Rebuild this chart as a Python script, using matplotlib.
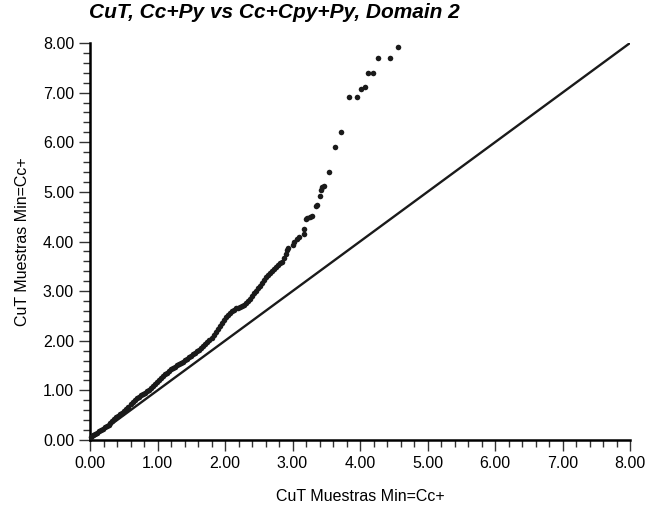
import matplotlib.pyplot as plt
from matplotlib.ticker import MultipleLocator, FormatStrFormatter

plt.rcParams['font.family'] = ['Liberation Sans', 'DejaVu Sans']

# cuantiles: Cc+Cpy+Py (x) vs Cc+Py (y)
qx = [0.02, 0.05, 0.08, 0.10, 0.13, 0.16, 0.19, 0.22, 0.25, 0.28,
      0.30, 0.33, 0.36, 0.39, 0.42, 0.45, 0.48, 0.51, 0.54, 0.57,
      0.60, 0.63, 0.66, 0.69, 0.72, 0.75, 0.78, 0.81, 0.84, 0.87,
      0.90, 0.93, 0.96, 0.99, 1.02, 1.05, 1.08, 1.11, 1.14, 1.17,
      1.20, 1.23, 1.26, 1.29, 1.32, 1.35, 1.38, 1.41, 1.44, 1.47,
      1.50, 1.53, 1.56, 1.59, 1.62, 1.65, 1.68, 1.71, 1.74, 1.77,
      1.80, 1.83, 1.86, 1.89, 1.92, 1.95, 1.98, 2.01, 2.04, 2.07,
      2.10, 2.13, 2.16, 2.19, 2.22, 2.25, 2.28, 2.31, 2.34, 2.37,
      2.40, 2.43, 2.46, 2.49, 2.52, 2.55, 2.58, 2.61, 2.64, 2.67,
      2.70, 2.73, 2.76, 2.79, 2.82, 2.85, 2.88, 2.90, 2.92, 2.94,
      3.01, 3.02, 3.07, 3.10, 3.17, 3.17, 3.20, 3.22, 3.26, 3.29,
      3.35, 3.36, 3.41, 3.42, 3.44, 3.47, 3.54, 3.63, 3.72, 3.84,
      3.96, 4.02, 4.07, 4.12, 4.19, 4.27, 4.44, 4.56]
qy = [0.06, 0.10, 0.13, 0.15, 0.18, 0.21, 0.23, 0.26, 0.28, 0.31,
      0.34, 0.38, 0.42, 0.46, 0.49, 0.52, 0.55, 0.59, 0.63, 0.67,
      0.72, 0.76, 0.80, 0.84, 0.87, 0.90, 0.93, 0.95, 0.98, 1.01,
      1.05, 1.09, 1.13, 1.17, 1.21, 1.25, 1.29, 1.33, 1.36, 1.39,
      1.43, 1.46, 1.48, 1.51, 1.53, 1.56, 1.58, 1.61, 1.64, 1.67,
      1.70, 1.73, 1.76, 1.79, 1.82, 1.86, 1.89, 1.93, 1.97, 2.01,
      2.06, 2.11, 2.17, 2.24, 2.30, 2.36, 2.42, 2.47, 2.51, 2.55,
      2.59, 2.62, 2.65, 2.67, 2.69, 2.71, 2.73, 2.76, 2.80, 2.85,
      2.91, 2.96, 3.01, 3.06, 3.11, 3.16, 3.22, 3.28, 3.33, 3.37,
      3.41, 3.44, 3.48, 3.52, 3.56, 3.59, 3.66, 3.74, 3.82, 3.87,
      3.93, 3.99, 4.05, 4.09, 4.15, 4.25, 4.46, 4.48, 4.50, 4.52,
      4.72, 4.74, 4.92, 5.04, 5.10, 5.12, 5.40, 5.91, 6.21, 6.92,
      6.92, 7.08, 7.12, 7.40, 7.40, 7.70, 7.70, 7.92]

ref_line = [0, 8]

fig = plt.figure(figsize=(6.51, 5.09), dpi=100)
ax = fig.add_axes([90 / 651, 69 / 509, 540 / 651, 397 / 509])

ax.plot(ref_line, ref_line, color='#1a1a1a', lw=1.7)
ax.scatter(qx, qy, s=16, color='#1a1a1a', linewidths=0, zorder=3, clip_on=False)

ax.set_xlim(0, 8)
ax.set_ylim(0, 8)
for a in (ax.xaxis, ax.yaxis):
    a.set_major_locator(MultipleLocator(1))
    a.set_minor_locator(MultipleLocator(0.2))
    a.set_major_formatter(FormatStrFormatter('%.2f'))
ax.tick_params(which='major', direction='out', length=8, width=1, labelsize=11.5, color='#333333')
ax.tick_params(which='minor', direction='out', length=5, width=1, color='#333333')
ax.spines['top'].set_visible(False)
ax.spines['right'].set_visible(False)
ax.spines['left'].set_linewidth(1.8)
ax.spines['bottom'].set_linewidth(1.8)

ax.set_xlabel('CuT Muestras Min=Cc+', fontsize=11.5, labelpad=13)
ax.set_ylabel('CuT Muestras Min=Cc+', fontsize=11.5, labelpad=9)
fig.text(89 / 651, 1 - 12 / 509, 'CuT, Cc+Py vs Cc+Cpy+Py, Domain 2',
         fontsize=15, fontweight='bold', fontstyle='italic', va='center', ha='left')

fig.savefig('out.png', dpi=100)
